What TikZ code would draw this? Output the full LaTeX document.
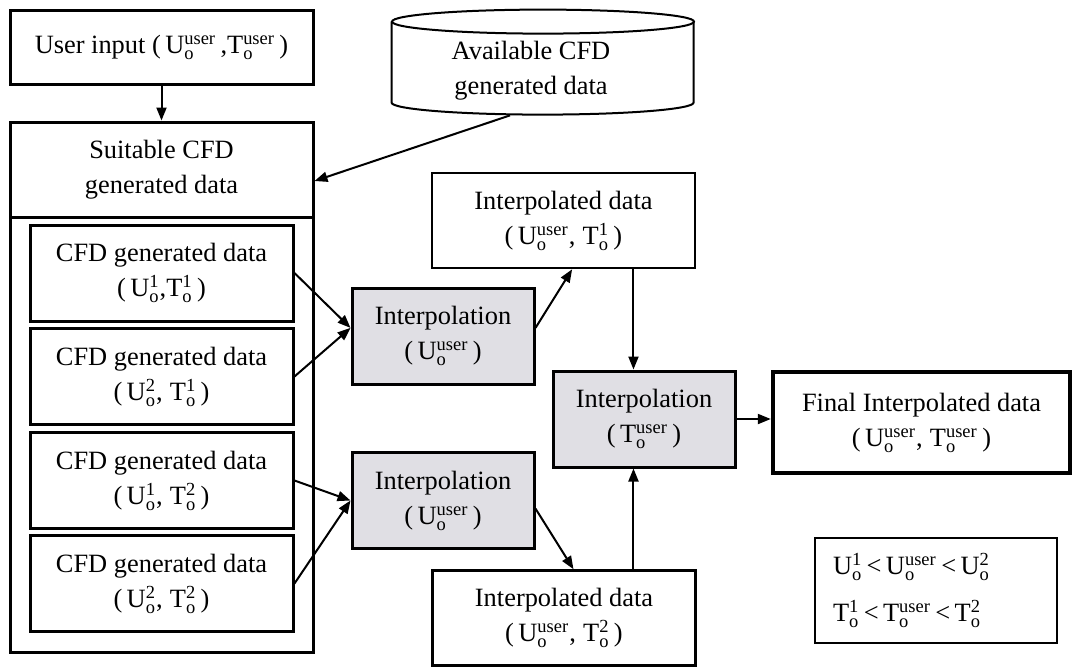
\documentclass[tikz,border=0pt]{standalone}
\usepackage{amsmath}
\usepackage{fontspec}
\setmainfont{Liberation Serif}
\usetikzlibrary{arrows.meta}

\definecolor{interpgray}{RGB}{224,223,228}
\newcommand{\Usym}[1]{U$_{\text{o}}^{\text{#1}}$}
\newcommand{\Tsym}[1]{T$_{\text{o}}^{\text{#1}}$}

\begin{document}
\begin{tikzpicture}[x=0.5pt,y=-0.5pt,
  every node/.style={font=\fontsize{13.2}{17.5}\selectfont, align=center},
  box/.style={draw, line width=1.5pt, inner sep=0pt},
  cfd/.style={box, minimum width=131.5pt, minimum height=48pt},
  interp/.style={box, fill=interpgray, minimum width=91pt, minimum height=48pt},
  idata/.style={box, line width=1.3pt, minimum width=131.5pt, minimum height=47.5pt},
  arr/.style={-{Triangle[length=6.5pt,width=5pt]}, line width=1pt}]

\useasboundingbox (0,0) rectangle (1072,666);

\node[box, minimum width=151.5pt, minimum height=37pt] (user) at (161.5,47) {User input (\,\Usym{user}\,,\Tsym{user}\,)};
\node[box, minimum width=151.5pt, minimum height=265pt] (suit) at (161.5,387) {};
\node (suittitle) at (161.5,169.5) {Suitable CFD\\generated data};
\draw[line width=1.5pt] (10,217) -- (313,217);

% cylinder
\node[minimum width=151pt, minimum height=52.5pt] (avail) at (543,62.5) {};
\node (availtext) at (531,71) {Available CFD\\generated data};
\draw[line width=1pt] (avail.north) ++(0,12) ellipse [x radius=151, y radius=12];
\draw[line width=1pt] (avail.north west) ++(0,12) -- ++(0,81)
  arc[start angle=180, end angle=0, x radius=151, y radius=12] -- ++(0,-81);

\node[cfd] (c1) at (161.5,273) {CFD generated data\\(\,\Usym{1},\Tsym{1}\,)};
\node[cfd] (c2) at (161.5,376.5) {CFD generated data\\(\,\Usym{2},\;\Tsym{1}\,)};
\node[cfd] (c3) at (161.5,480.5) {CFD generated data\\(\,\Usym{1},\;\Tsym{2}\,)};
\node[cfd] (c4) at (161.5,583.5) {CFD generated data\\(\,\Usym{2},\;\Tsym{2}\,)};

\node[interp] (i1) at (443,336) {Interpolation\\(\,\Usym{user}\,)};
\node[interp] (i2) at (443,500.5) {Interpolation\\(\,\Usym{user}\,)};
\node[interp] (i3) at (644,419) {Interpolation\\(\,\Tsym{user}\,)};

\node[idata] (id1) at (563.5,220.5) {Interpolated data\\(\,\Usym{user},\;\Tsym{1}\,)};
\node[idata] (id2) at (564,618) {Interpolated data\\(\,\Usym{user},\;\Tsym{2}\,)};

\node[box, line width=2.2pt, minimum width=148.5pt, minimum height=50.5pt] (final) at (921.5,422.5) {Final Interpolated data\\(\,\Usym{user},\;\Tsym{user}\,)};

\node[draw, line width=0.7pt, inner xsep=9pt, text width=103pt, minimum height=52.5pt, align=left] (cond) at (936,590.5)
  {\Usym{1}\,<\,\Usym{user}\,<\,\Usym{2}\\[6pt]\Tsym{1}\,<\,\Tsym{user}\,<\,\Tsym{2}};

\draw[arr] (user) -- (suit);
\draw[arr] ([xshift=-16.5pt]avail.south) -- ([yshift=103pt]suit.east);
\draw[arr] (c1.east) -- (i1.175);
\draw[arr] (c2.east) -- (i1.175);
\draw[arr] (c3.east) -- (i2.west);
\draw[arr] (c4.east) -- (i2.west);
\draw[arr] (i1.5) -- (id1.-80);
\draw[arr] (i2.-5) -- (id2.79);
\draw[arr] (id1.south -| i3.102) -- (i3.102);
\draw[arr] (id2.north -| i3.258) -- (i3.258);
\draw[arr] (i3.east) -- (final.west |- i3.east);

\end{tikzpicture}
\end{document}
